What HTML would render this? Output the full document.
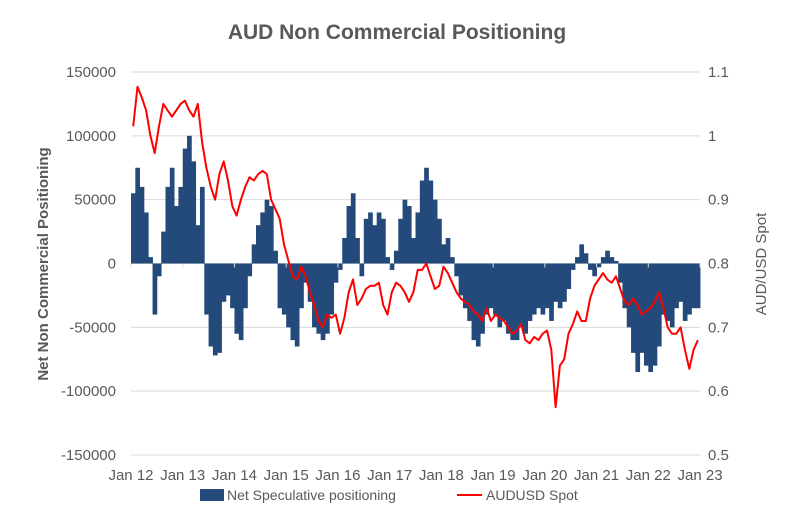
<!DOCTYPE html>
<html><head><meta charset="utf-8"><style>
body{margin:0;background:#fff;font-family:"Liberation Sans",sans-serif;}
svg text{font-family:"Liberation Sans",sans-serif;fill:#595959;}
</style></head><body>
<svg id="chart" width="793" height="510">
<text x="397" y="39" text-anchor="middle" font-size="21" font-weight="bold">AUD Non Commercial Positioning</text>
<g id="grid"></g><g id="bars"></g><g id="line"></g><g id="axes"></g>
<text transform="translate(48,264) rotate(-90)" text-anchor="middle" font-size="15" font-weight="bold">Net Non Commercial Positioning</text>
<text transform="translate(766,264) rotate(-90)" text-anchor="middle" font-size="15">AUD/USD Spot</text>
<rect x="200" y="489" width="24" height="12" fill="#234a7b"/>
<text x="227" y="500" font-size="14">Net Speculative positioning</text>
<line x1="457" y1="495" x2="482" y2="495" stroke="#f00" stroke-width="2"/>
<text x="486" y="500" font-size="14">AUDUSD Spot</text>
</svg>
<script>
const yearLabels=["Jan 12","Jan 13","Jan 14","Jan 15","Jan 16","Jan 17","Jan 18","Jan 19","Jan 20","Jan 21","Jan 22","Jan 23"];
const leftTicks=[150000,100000,50000,0,-50000,-100000,-150000];
const rightTicks=[1.1,1,0.9,0.8,0.7,0.6,0.5];
const positioning=[55,75,60,40,5,-40,-10,25,60,75,45,60,
90,100,80,30,60,-40,-65,-72,-70,-30,-25,-35,
-55,-60,-35,-10,15,30,40,50,45,10,-35,-40,
-50,-60,-65,-35,-15,-30,-50,-55,-60,-55,-40,-15,
-5,20,45,55,20,-10,35,40,30,40,35,5,
-5,10,35,50,45,20,40,65,75,65,50,35,
15,20,5,-10,-25,-35,-45,-60,-65,-55,-40,-35,
-40,-50,-45,-55,-60,-60,-50,-55,-45,-40,-35,-40,
-35,-45,-30,-35,-30,-20,-5,5,15,8,-5,-10,
-3,5,10,5,2,-15,-35,-50,-70,-85,-70,-80,
-85,-80,-65,-40,-45,-50,-35,-30,-45,-40,-35,-35];
const audusd=[1.015,1.077,1.06,1.04,1.0,0.973,1.015,1.05,1.04,1.03,1.04,1.05,
1.055,1.04,1.03,1.05,0.99,0.95,0.92,0.90,0.94,0.96,0.93,0.89,
0.875,0.90,0.92,0.935,0.93,0.94,0.945,0.94,0.90,0.885,0.87,0.83,
0.805,0.78,0.775,0.795,0.78,0.755,0.735,0.71,0.70,0.72,0.715,0.72,
0.69,0.715,0.755,0.775,0.735,0.745,0.76,0.765,0.765,0.77,0.735,0.72,
0.755,0.77,0.765,0.755,0.74,0.755,0.79,0.79,0.80,0.78,0.76,0.765,
0.795,0.785,0.77,0.755,0.745,0.74,0.735,0.725,0.72,0.71,0.73,0.71,
0.72,0.715,0.71,0.70,0.69,0.695,0.705,0.68,0.675,0.685,0.68,0.69,
0.695,0.665,0.575,0.64,0.65,0.69,0.705,0.725,0.71,0.71,0.745,0.765,
0.775,0.785,0.775,0.77,0.78,0.76,0.74,0.735,0.745,0.735,0.72,0.725,
0.73,0.74,0.755,0.73,0.70,0.69,0.69,0.70,0.665,0.635,0.665,0.68];
const NS="http://www.w3.org/2000/svg";
const X0=131,YR=51.73,TOP=72,BOT=455;
function xAt(i){return X0+i/12*YR;}
function yL(v){return TOP+(150000-v)/300000*(BOT-TOP);}
function yR(v){return TOP+(1.1-v)/0.6*(BOT-TOP);}
function mk(tag,attrs,parent){const e=document.createElementNS(NS,tag);for(const k in attrs)e.setAttribute(k,attrs[k]);document.getElementById(parent).appendChild(e);return e;}
leftTicks.forEach((t,i)=>{
 const g=mk('line',{x1:X0,x2:700,y1:yL(t),y2:yL(t),stroke:'#d9d9d9','stroke-width':1},'grid');
 
 
 const tx=mk('text',{x:116,y:yL(t)+5,'text-anchor':'end','font-size':15},'axes');
 tx.textContent=t;
 
 
});
rightTicks.forEach(t=>{
 const tx=mk('text',{x:708,y:yR(t)+5,'font-size':15},'axes');
 tx.textContent=t;
 
 
});
yearLabels.forEach((l,i)=>{
 const x=X0+i*YR;
 const tk=mk('line',{x1:x,x2:x,y1:yL(0),y2:yL(0)+4,stroke:'#d9d9d9'},'axes');
 
 
 const tx=mk('text',{x:x,y:480,'text-anchor':'middle','font-size':15},'axes');
 tx.textContent=l;
 
 
});
positioning.forEach((v,i)=>{
 const val=v*1000,y0=yL(0),y1=yL(val);
 const b=mk('rect',{x:xAt(i),y:Math.min(y0,y1),width:YR/12+0.4,height:Math.abs(y1-y0),fill:'#234a7b'},'bars');
 
 
});
const pts=audusd.map((v,i)=>xAt(i+0.5).toFixed(1)+','+yR(v).toFixed(1)).join(' ');
const pl=mk('polyline',{points:pts,fill:'none',stroke:'#f00','stroke-width':2,'stroke-linejoin':'round'},'line');


</script>
</body></html>
